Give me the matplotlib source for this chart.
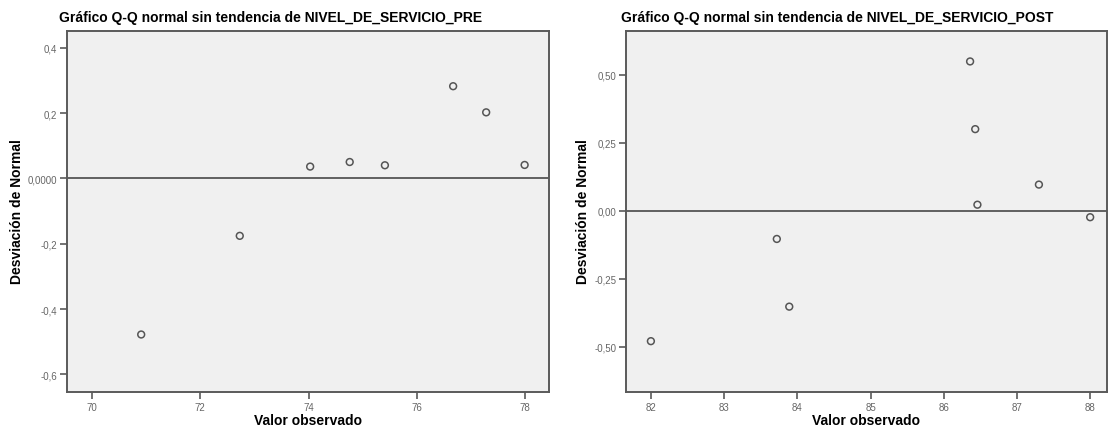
import matplotlib
matplotlib.use("Agg")
import matplotlib.pyplot as plt

plt.rcParams['font.family'] = ['Liberation Sans', 'DejaVu Sans']

# Data
pre_x = [70.91, 72.73, 74.03, 74.76, 75.41, 76.67, 77.28, 77.99]
pre_y = [-0.478, -0.176, 0.036, 0.050, 0.040, 0.282, 0.202, 0.041]
post_x = [82.0, 83.72, 83.89, 86.36, 86.43, 86.46, 87.30, 88.0]
post_y = [-0.480, -0.104, -0.353, 0.549, 0.300, 0.022, 0.096, -0.024]

pre_xticks = [70, 72, 74, 76, 78]
pre_yticks = [0.4, 0.2, 0.0, -0.2, -0.4, -0.6]
pre_ylabels = ["0,4", "0,2", "0,0000", "-0,2", "-0,4", "-0,6"]
post_xticks = [82, 83, 84, 85, 86, 87, 88]
post_yticks = [0.50, 0.25, 0.0, -0.25, -0.50]
post_ylabels = ["0,50", "0,25", "0,00", "-0,25", "-0,50"]

title_pre = "Gráfico Q-Q normal sin tendencia de NIVEL_DE_SERVICIO_PRE"
title_post = "Gráfico Q-Q normal sin tendencia de NIVEL_DE_SERVICIO_POST"
xlabel = "Valor observado"
ylabel = "Desviación de Normal"

W, H = 1108, 435
fig = plt.figure(figsize=(W / 100, H / 100), dpi=100)
fig.patch.set_facecolor("white")

edge = "#5a5a5a"
face = "#f0f0f0"


def make(ax_rect, xs, ys, xticks, yticks, ylabels, xlim, ylim, title, title_x, ylab_x):
    ax = fig.add_axes(ax_rect)
    ax.set_facecolor(face)
    ax.axhline(0, color="#555555", lw=1.3, zorder=1)
    ax.scatter(xs, ys, s=24, facecolors="none", edgecolors="#555555",
               linewidths=1.1, zorder=3)
    ax.set_xlim(*xlim)
    ax.set_ylim(*ylim)
    ax.set_xticks(xticks)
    ax.set_xticklabels([str(t) for t in xticks])
    ax.set_yticks(yticks)
    ax.set_yticklabels(ylabels)
    for s in ax.spines.values():
        s.set_color(edge)
        s.set_linewidth(1.4)
    ax.tick_params(direction="out", length=5, width=1.2, color=edge,
                   labelsize=7, labelcolor="#666666", pad=2)
    xc = ax_rect[0] + ax_rect[2] / 2
    fig.text(xc, 1 - 421 / H, xlabel, fontsize=10, fontweight="bold",
             ha="center", va="center")
    fig.text(title_x / W, 1 - 18 / H, title, fontsize=10, fontweight="bold",
             ha="left", va="center")
    fig.text(ylab_x / W, 1 - 212 / H, ylabel, fontsize=10, fontweight="bold",
             rotation=90, ha="center", va="center")
    return ax


make([67 / W, 42 / H, 482 / W, 361 / H], pre_x, pre_y, pre_xticks, pre_yticks,
     pre_ylabels, (69.54, 78.44), (-0.654, 0.451), title_pre, 59, 17)
make([626 / W, 42 / H, 481 / W, 361 / H], post_x, post_y, post_xticks, post_yticks,
     post_ylabels, (81.66, 88.23), (-0.667, 0.661), title_post, 621, 583)

fig.savefig("out.png", dpi=100)
